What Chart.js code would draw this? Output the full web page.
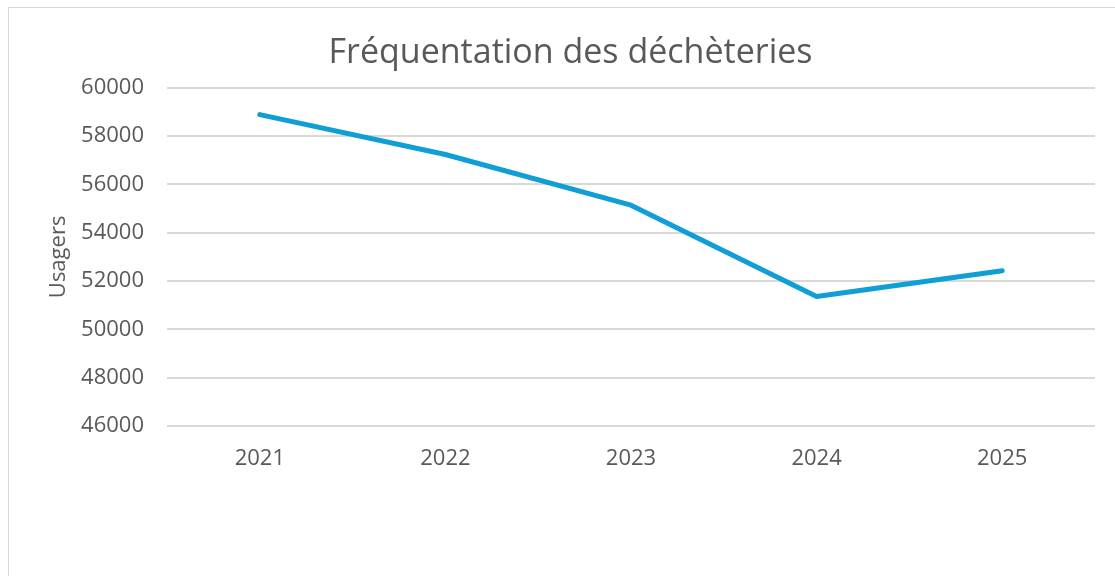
<!DOCTYPE html>
<html>
<head>
<meta charset="utf-8">
<script src="https://cdn.jsdelivr.net/npm/chart.js@4"></script>
<style>
  html, body { margin: 0; padding: 0; background: #fff; overflow: hidden; }
  #frame {
    position: absolute; left: 8px; top: 7px;
    width: 1200px; height: 700px;
    border: 1.5px solid #d9d9d9;
  }
  #wrap { position: absolute; left: 0; top: 0; width: 1115px; height: 576px; }
</style>
</head>
<body>
<div id="frame"></div>
<div id="wrap"><canvas id="chart"></canvas></div>
<script>
const years = ['2021', '2022', '2023', '2024', '2025'];
const usagers = [58890, 57240, 55140, 51360, 52430];
const yMin = 46000;
const yMax = 60000;
const yStep = 2000;

const textColor = '#595959';
const fontFamily = "'Open Sans', 'Liberation Sans', Arial, sans-serif";

new Chart(document.getElementById('chart'), {
  type: 'line',
  data: {
    labels: years,
    datasets: [
      {
        label: 'Usagers',
        data: usagers,
        borderColor: '#0F9ED5',
        borderWidth: 5,
        borderCapStyle: 'round',
        borderJoinStyle: 'round',
        pointRadius: 0,
        tension: 0,
        fill: false,
      },
    ],
  },
  options: {
    responsive: true,
    maintainAspectRatio: false,
    animation: false,
    layout: {
      padding: { top: 33, right: 20, bottom: 0, left: 46 },
    },
    plugins: {
      legend: { display: false },
      tooltip: { enabled: false },
      title: {
        display: true,
        text: 'Fréquentation des déchèteries',
        color: textColor,
        font: { family: fontFamily, size: 34, weight: 'normal', lineHeight: 1.2 },
        padding: { top: 0, bottom: 14 },
      },
    },
    scales: {
      x: {
        offset: true,
        grid: { display: false },
        border: { display: false },
        ticks: {
          color: textColor,
          font: { family: fontFamily, size: 22 },
          padding: 12,
        },
        afterFit: (scale) => {
          scale.height = 150;
        },
      },
      y: {
        min: yMin,
        max: yMax,
        grid: { color: '#d9d9d9', lineWidth: 2, drawTicks: false },
        border: { display: false },
        ticks: {
          stepSize: yStep,
          color: textColor,
          font: { family: fontFamily, size: 22 },
          padding: 23,
          callback: (value) => String(value),
        },
        title: {
          display: true,
          text: 'Usagers',
          color: textColor,
          font: { family: fontFamily, size: 22 },
          padding: 0,
        },
        afterFit: (scale) => {
          scale.width = 121;
        },
      },
    },
  },
});
</script>
</body>
</html>
